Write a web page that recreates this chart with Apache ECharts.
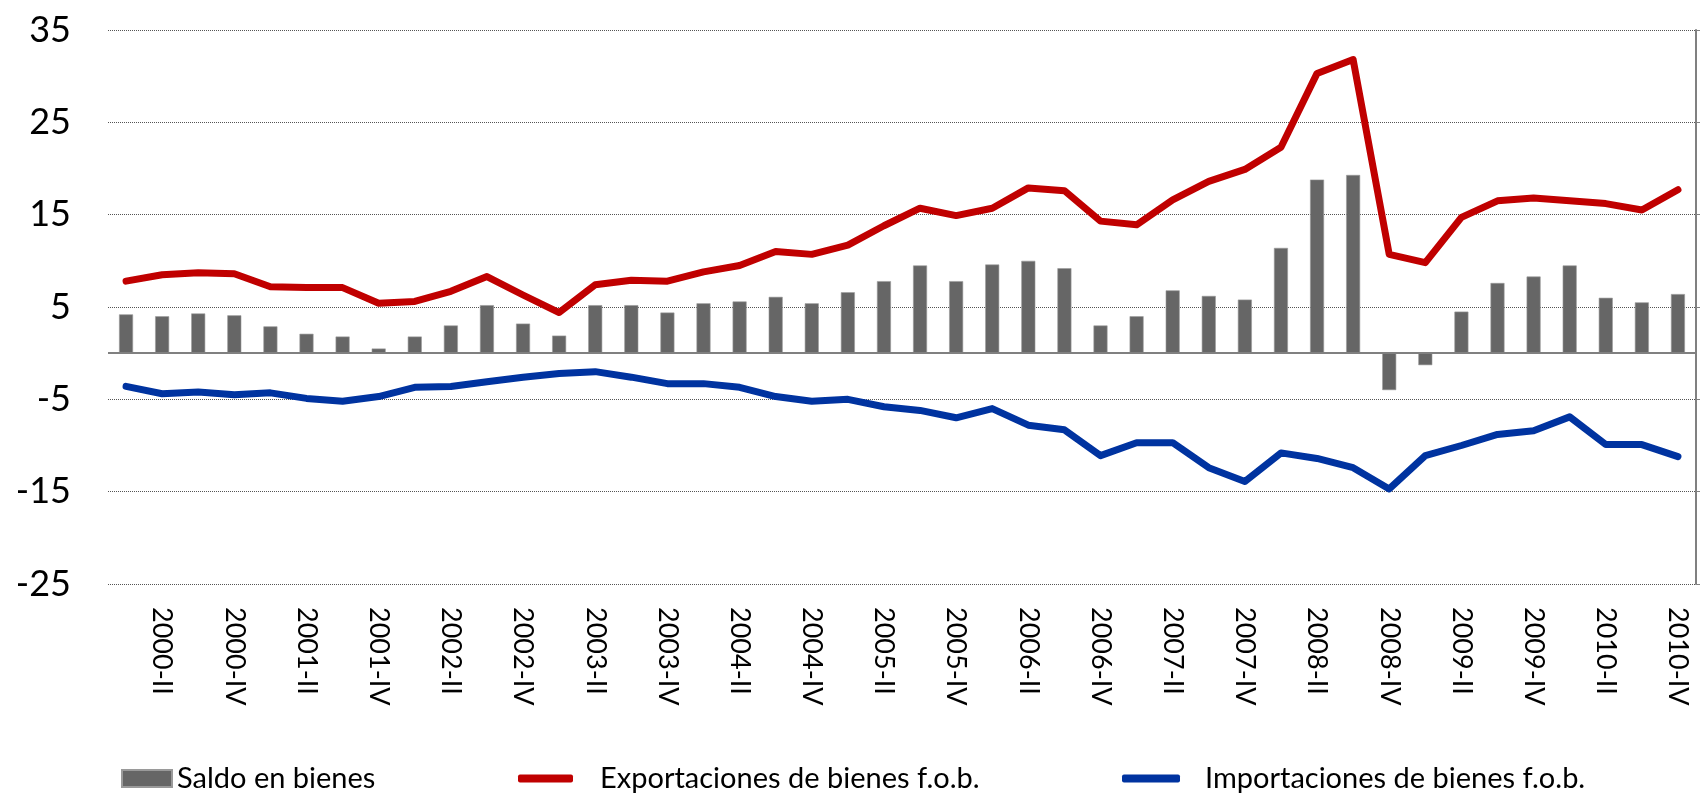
<!DOCTYPE html>
<html><head><meta charset="utf-8">
<script src="https://cdn.jsdelivr.net/npm/echarts@6/dist/echarts.min.js"></script>
<style>html,body{margin:0;padding:0;background:#fff}#c{width:1700px;height:798px}</style>
</head><body><div id="c"></div>
<script>
const categories = [
 '2000-I','2000-II','2000-III','2000-IV','2001-I','2001-II','2001-III','2001-IV',
 '2002-I','2002-II','2002-III','2002-IV','2003-I','2003-II','2003-III','2003-IV',
 '2004-I','2004-II','2004-III','2004-IV','2005-I','2005-II','2005-III','2005-IV',
 '2006-I','2006-II','2006-III','2006-IV','2007-I','2007-II','2007-III','2007-IV',
 '2008-I','2008-II','2008-III','2008-IV','2009-I','2009-II','2009-III','2009-IV',
 '2010-I','2010-II','2010-III','2010-IV'];
const saldo = [4.2,4.0,4.3,4.1,2.9,2.1,1.8,0.5,1.8,3.0,5.2,3.2,
 1.9,5.2,5.2,4.4,5.4,5.6,6.1,5.4,6.6,7.8,9.5,7.8,
 9.6,10.0,9.2,3.0,4.0,6.8,6.2,5.8,11.4,18.8,19.3,-4.0,
 -1.3,4.5,7.6,8.3,9.5,6.0,5.5,6.4];
const exportaciones = [7.8,8.5,8.7,8.6,7.2,7.1,7.1,5.4,5.6,6.7,8.3,6.3,
 4.4,7.4,7.9,7.8,8.8,9.5,11.0,10.7,11.7,13.8,15.7,14.9,
 15.7,17.9,17.6,14.3,13.9,16.6,18.6,19.9,22.3,30.3,31.8,10.7,
 9.8,14.7,16.5,16.8,16.5,16.2,15.5,17.7];
const importaciones = [-3.6,-4.4,-4.2,-4.5,-4.3,-4.9,-5.2,-4.7,-3.7,-3.6,-3.1,-2.6,
 -2.2,-2.0,-2.6,-3.3,-3.3,-3.7,-4.7,-5.2,-5.0,-5.8,-6.2,-7.0,
 -6.0,-7.8,-8.3,-11.1,-9.7,-9.7,-12.4,-13.9,-10.8,-11.4,-12.4,-14.7,
 -11.1,-10.0,-8.8,-8.4,-6.9,-9.9,-9.9,-11.2];
const yTicks = [-25,-15,-5,5,15,25,35];
const names = ['Saldo en bienes','Exportaciones de bienes f.o.b.','Importaciones de bienes f.o.b.'];

const FONT = 'Lato';
const chart = echarts.init(document.getElementById('c'), null, {renderer:'canvas'});
chart.setOption({
  animation:false,
  backgroundColor:'#fff',
  textStyle:{fontFamily:FONT},
  grid:{left:108,right:4,top:30,bottom:214,containLabel:false},
  legend:[
    {data:[{name:names[0],icon:'rect'}],left:121,top:764,padding:0,itemWidth:50,itemHeight:17,selectedMode:false,
     textStyle:{fontFamily:FONT,fontSize:29,color:'#000'}},
    {data:[{name:names[1],icon:'roundRect'}],left:518,top:764,padding:0,itemWidth:55,itemHeight:8,selectedMode:false,
     textStyle:{fontFamily:FONT,fontSize:29,color:'#000',padding:[0,0,0,22]}},
    {data:[{name:names[2],icon:'roundRect'}],left:1122,top:764,padding:0,itemWidth:58,itemHeight:8,selectedMode:false,
     textStyle:{fontFamily:FONT,fontSize:29,color:'#000',padding:[0,0,0,20]}}
  ],
  xAxis:{type:'category',data:categories,boundaryGap:true,
    axisLine:{show:false,onZero:false},axisTick:{show:false},
    axisLabel:{rotate:-90,margin:23,fontSize:27,color:'#000',fontFamily:FONT,
      interval:function(i){return i%2===1;}}},
  yAxis:[
    {type:'value',min:-25,max:35,interval:10,position:'left',
     axisLine:{show:false},axisTick:{show:false,customValues:yTicks},
     axisLabel:{fontSize:36,color:'#000',margin:37,fontFamily:FONT,customValues:yTicks},
     splitLine:{show:true,lineStyle:{color:'#555',width:1,type:[1,1]}}},
    {type:'value',min:-25,max:35,interval:10,position:'right',
     axisLine:{show:true,lineStyle:{color:'#808080',width:2}},
     axisTick:{show:true,inside:false,length:4,customValues:yTicks,lineStyle:{color:'#808080'}},
     axisLabel:{show:false,customValues:yTicks},splitLine:{show:false}}
  ],
  series:[
    {name:names[0],type:'bar',data:saldo,barWidth:14,color:'#666666',
     itemStyle:{color:'#666666',borderColor:'#9a9a9a',borderWidth:0.6},
     markLine:{silent:true,symbol:'none',label:{show:false},
       lineStyle:{color:'#808080',width:2,type:'solid'},data:[{yAxis:0}]}},
    {name:names[1],type:'line',data:exportaciones,symbol:'none',color:'#C00000',
     lineStyle:{color:'#C00000',width:7,cap:'round',join:'round'},z:3},
    {name:names[2],type:'line',data:importaciones,symbol:'none',color:'#0033A0',
     lineStyle:{color:'#0033A0',width:7,cap:'round',join:'round'},z:3}
  ]
});
</script></body></html>
